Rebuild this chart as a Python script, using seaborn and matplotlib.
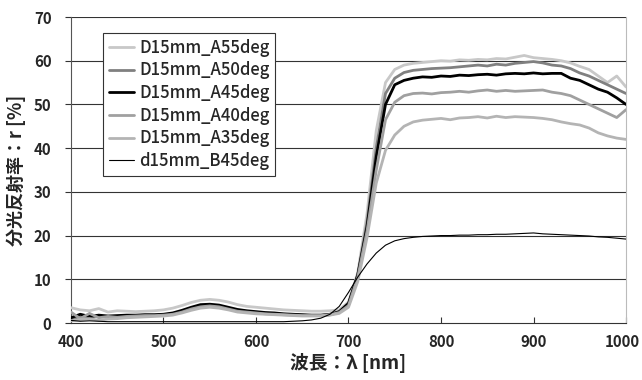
import numpy as np
import pandas as pd
import matplotlib
matplotlib.use("Agg")
import matplotlib.pyplot as plt
import matplotlib.transforms as mtransforms
import seaborn as sns

wavelength = list(range(400, 1001, 10))

A55 = [3.5, 3.0, 2.8, 3.3, 2.5, 2.8, 2.7, 2.6, 2.7, 2.8,
       3.0, 3.4, 4.0, 4.7, 5.2, 5.4, 5.2, 4.8, 4.2, 3.8,
       3.6, 3.4, 3.2, 3.0, 2.9, 2.8, 2.7, 2.7, 2.8, 3.0,
       4.8, 11.5, 25.0, 44.0, 55.0, 58.0, 59.0, 59.4, 59.6, 59.8,
       60.0, 59.9, 60.2, 60.1, 60.3, 60.2, 60.5, 60.4, 60.8, 61.2,
       60.7, 60.5, 60.3, 60.0, 59.5, 58.7, 58.0, 56.5, 55.0, 56.5,
       54.0]
A50 = [0.8, 1.5, 1.2, 1.6, 1.4, 1.5, 1.7, 1.7, 1.8, 1.8,
       1.9, 2.1, 2.7, 3.4, 3.9, 4.1, 3.9, 3.4, 2.9, 2.6,
       2.4, 2.2, 2.1, 2.0, 1.9, 1.8, 1.7, 1.7, 1.9, 2.5,
       4.3, 11.0, 23.0, 40.0, 52.5, 56.0, 57.3, 57.8, 58.0, 58.2,
       58.3, 58.4, 58.6, 58.8, 59.0, 58.8, 59.2, 59.0, 59.4, 59.6,
       59.8, 59.5, 59.0, 58.8, 58.2, 57.2, 56.5, 55.5, 54.5, 53.5,
       52.5]
A45 = [1.2, 2.0, 1.5, 1.8, 1.6, 1.7, 1.8, 1.8, 1.9, 1.9,
       2.0, 2.3, 2.9, 3.6, 4.2, 4.3, 4.1, 3.6, 3.1, 2.8,
       2.6, 2.4, 2.3, 2.1, 2.0, 1.9, 1.8, 1.8, 2.0, 2.6,
       4.5, 11.0, 22.0, 38.0, 50.0, 54.5, 55.5, 56.0, 56.3, 56.2,
       56.5, 56.4, 56.7, 56.6, 56.8, 56.9, 56.7, 57.0, 57.1, 57.0,
       57.2, 57.0, 57.1, 57.1, 56.0, 55.5, 54.5, 53.5, 52.8, 51.5,
       50.0]
A40 = [2.5, 1.0, 2.2, 1.2, 1.5, 1.3, 1.5, 1.6, 1.7, 1.7,
       1.8, 2.0, 2.5, 3.2, 3.7, 3.9, 3.7, 3.2, 2.7, 2.5,
       2.3, 2.1, 2.0, 1.9, 1.8, 1.7, 1.7, 1.7, 1.9, 2.4,
       4.0, 10.5, 21.0, 35.0, 46.5, 50.5, 52.0, 52.5, 52.6, 52.4,
       52.7, 52.8, 53.0, 52.8, 53.1, 53.3, 53.0, 53.2, 53.0, 53.1,
       53.2, 53.3, 52.8, 52.5, 52.0, 51.0, 50.0, 49.0, 48.0, 47.0,
       48.8]
A35 = [0.5, 0.8, 1.0, 0.6, 0.9, 1.0, 1.2, 1.3, 1.4, 1.5,
       1.6, 1.8, 2.3, 2.9, 3.4, 3.6, 3.4, 3.0, 2.5, 2.3,
       2.1, 2.0, 1.9, 1.8, 1.7, 1.6, 1.6, 1.6, 1.8, 2.2,
       3.6, 9.5, 19.5, 32.0, 39.5, 43.0, 45.0, 46.0, 46.4, 46.6,
       46.8, 46.5, 46.9, 47.0, 47.2, 46.9, 47.3, 47.0, 47.2, 47.1,
       47.0, 46.8, 46.5, 46.0, 45.6, 45.3, 44.6, 43.5, 42.8, 42.3,
       42.0]
B45 = [0.6, 0.4, 0.5, 0.4, 0.3, 0.3, 0.3, 0.3, 0.3, 0.3,
       0.3, 0.3, 0.3, 0.3, 0.3, 0.3, 0.3, 0.3, 0.3, 0.3,
       0.3, 0.3, 0.3, 0.3, 0.4, 0.5, 0.7, 1.1, 2.0, 3.8,
       7.0, 10.5, 13.5, 16.0, 17.8, 18.8, 19.3, 19.6, 19.8, 19.9,
       20.0, 20.0, 20.1, 20.1, 20.2, 20.2, 20.3, 20.3, 20.4, 20.5,
       20.6, 20.4, 20.3, 20.2, 20.1, 20.0, 19.9, 19.7, 19.6, 19.4,
       19.2]

series_names = ["D15mm_A55deg", "D15mm_A50deg", "D15mm_A45deg",
                "D15mm_A40deg", "D15mm_A35deg", "d15mm_B45deg"]
series_values = [A55, A50, A45, A40, A35, B45]
x_ticks = [400, 500, 600, 700, 800, 900, 1000]
y_ticks = [0, 10, 20, 30, 40, 50, 60, 70]

colors = ["#c8c8c8", "#808080", "#000000", "#a0a0a0", "#b4b4b4", "#000000"]
widths = [2.0, 2.0, 2.0, 2.0, 2.0, 0.8]

sns.set_style("white")
plt.rcParams["font.family"] = ["Noto Sans CJK JP", "DejaVu Sans"]

fig = plt.figure(figsize=(6.42, 3.80), dpi=100)
ax = fig.add_axes([71/642, 57/380, 555/642, 306/380])

for name, vals, c, w in zip(series_names, series_values, colors, widths):
    df = pd.DataFrame({"wl": wavelength, "r": vals})
    sns.lineplot(data=df, x="wl", y="r", ax=ax, color=c, linewidth=w,
                 label=name, zorder=3)

ax.set_xlim(400, 1000)
ax.set_ylim(0, 70)
ax.set_xticks(x_ticks)
ax.set_yticks(y_ticks)
for yv in y_ticks[1:]:
    ax.axhline(yv, color="#333333", linewidth=0.8, zorder=1)

ax.spines["left"].set_color("#555555")
ax.spines["bottom"].set_color("#333333")
ax.spines["top"].set_visible(False)
ax.spines["right"].set_color("#bbbbbb")
ax.tick_params(axis="x", direction="in", length=4, color="#333333",
               labelsize=10.8, pad=8, bottom=True)
ax.tick_params(axis="y", direction="out", length=4, color="#333333",
               labelsize=10.8, pad=10, left=True)
for lab in ax.get_xticklabels() + ax.get_yticklabels():
    lab.set_fontweight("bold")
last = ax.get_xticklabels()[-1]
last.set_transform(last.get_transform() +
                   mtransforms.ScaledTranslation(-4/100, 0, fig.dpi_scale_trans))

ax.set_xlabel("波長：λ [nm]", fontsize=13.5, fontweight="bold", labelpad=2)
ax.set_ylabel("分光反射率：r [%]", fontsize=13, fontweight="bold", labelpad=6)

leg = ax.legend(loc="upper left", bbox_to_anchor=(0.058, 0.948),
                borderaxespad=0, frameon=True, fancybox=False,
                edgecolor="#333333", framealpha=1,
                prop={"size": 12, "weight": "medium"},
                handlelength=1.5, handletextpad=0.3, labelspacing=0.28,
                borderpad=0.35)
leg.get_frame().set_linewidth(0.8)

fig.savefig("out.png", dpi=100)
